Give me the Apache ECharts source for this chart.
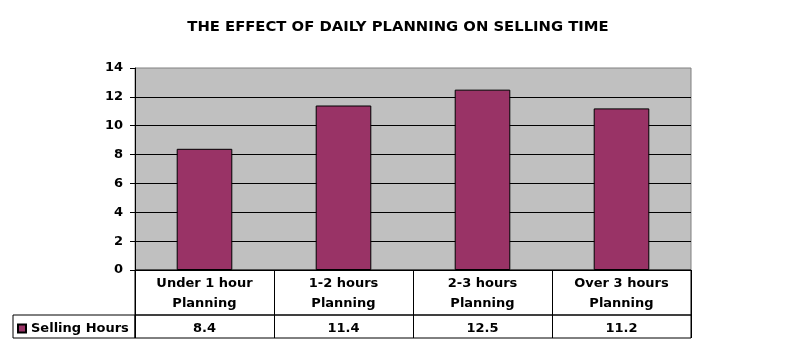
<!DOCTYPE html>
<html><head><meta charset="utf-8">
<script src="https://cdn.jsdelivr.net/npm/echarts@6/dist/echarts.min.js"></script>
<style>html,body{margin:0;padding:0;background:#fff}#c{width:796px;height:352px}</style>
</head><body><div id="c"></div>
<script>
const titleText = 'THE EFFECT OF DAILY PLANNING ON SELLING TIME';
const categories = ['Under 1 hour\nPlanning', '1-2 hours\nPlanning', '2-3 hours\nPlanning', 'Over 3 hours\nPlanning'];
const seriesName = 'Selling Hours';
const sellingHours = [8.4, 11.4, 12.5, 11.2];
const yTicks = {min: 0, max: 14, interval: 2};

const FONT = 'DejaVu Sans';
const txt = {fontFamily: FONT, fontWeight: 'bold', fontSize: 13, color: '#000'};
const chart = echarts.init(document.getElementById('c'), null, {renderer: 'canvas'});
chart.setOption({
  animation: false,
  backgroundColor: '#fff',
  title: {text: titleText, left: 'center', top: 15,
    textStyle: {fontFamily: FONT, fontWeight: 'bold', fontSize: 14.8, color: '#000'}},
  legend: {show: true, left: 13, top: 322, data: [seriesName], icon: 'rect', itemWidth: 8, itemHeight: 8, itemGap: 5,
    textStyle: txt, padding: [0, 0, 0, 4]},
  grid: [
    {left: 135, top: 68, width: 556, height: 202, show: true, backgroundColor: '#C0C0C0', borderColor: '#808080', borderWidth: 1, containLabel: false},
    {left: 135, top: 270, width: 556, height: 45, show: true, backgroundColor: 'transparent', borderColor: '#000', borderWidth: 1},
    {left: 135, top: 315, width: 556, height: 23, show: true, backgroundColor: 'transparent', borderColor: '#000', borderWidth: 1},
    {left: 13, top: 315, width: 122, height: 23, show: true, backgroundColor: 'transparent', borderColor: '#000', borderWidth: 1}
  ],
  xAxis: [
    {type: 'category', gridIndex: 0, data: categories,
      axisLine: {lineStyle: {color: '#000', width: 1}}, axisTick: {show: false},
      axisLabel: Object.assign({interval: 0, margin: 4, lineHeight: 20}, txt)},
    {type: 'category', gridIndex: 1, data: categories,
      axisLine: {show: false}, axisTick: {show: false}, axisLabel: {show: false},
      splitLine: {show: true, interval: 0, lineStyle: {color: '#000', width: 1}}},
    {type: 'category', gridIndex: 2, position: 'top', data: sellingHours.map(v => v.toFixed(1)),
      axisLine: {show: false}, axisTick: {show: false},
      axisLabel: Object.assign({interval: 0, inside: true, margin: 7}, txt),
      splitLine: {show: true, interval: 0, lineStyle: {color: '#000', width: 1}}},
    {type: 'category', gridIndex: 3, data: [''], show: false}
  ],
  yAxis: [
    {type: 'value', gridIndex: 0, min: yTicks.min, max: yTicks.max, interval: yTicks.interval,
      axisLine: {show: true, lineStyle: {color: '#000', width: 1}},
      axisTick: {show: true, length: 5, lineStyle: {color: '#000'}},
      axisLabel: Object.assign({margin: 12}, txt),
      splitLine: {show: true, showMinLine: false, showMaxLine: false, lineStyle: {color: '#000', width: 1}}},
    {type: 'value', gridIndex: 1, show: false},
    {type: 'value', gridIndex: 2, show: false},
    {type: 'value', gridIndex: 3, show: false}
  ],
  series: [{
    name: seriesName, type: 'bar', xAxisIndex: 0, yAxisIndex: 0, data: sellingHours,
    barWidth: '40%',
    itemStyle: {color: '#993366', borderColor: '#000', borderWidth: 1}
  }]
});
</script></body></html>
